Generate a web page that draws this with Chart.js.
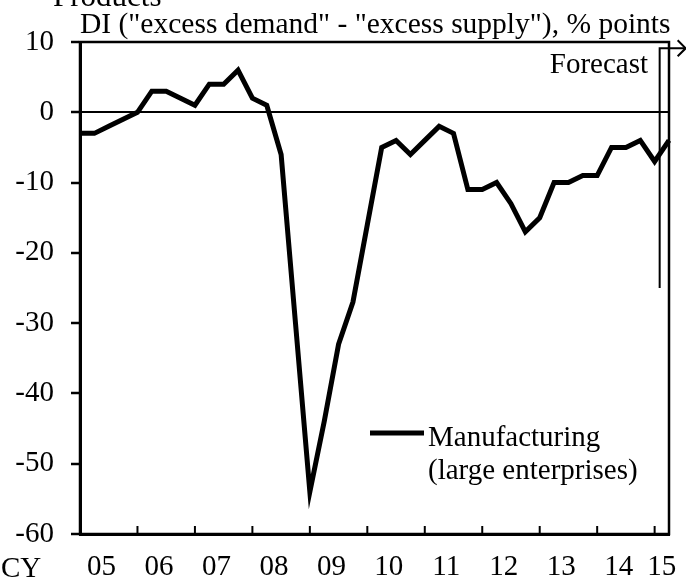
<!DOCTYPE html>
<html>
<head>
<meta charset="utf-8">
<script src="https://cdn.jsdelivr.net/npm/chart.js@4/dist/chart.umd.min.js"></script>
<style>
  html, body { margin: 0; padding: 0; background: #fff; }
  #wrap { width: 686px; height: 585px; }
</style>
</head>
<body>
<div id="wrap"><canvas id="chart" width="686" height="585"></canvas></div>
<script>
// quarters, CY2005 Q1 .. CY2015 Q2 (last one = forecast)
const quarters = [
  "05Q1","05Q2","05Q3","05Q4","06Q1","06Q2","06Q3","06Q4",
  "07Q1","07Q2","07Q3","07Q4","08Q1","08Q2","08Q3","08Q4",
  "09Q1","09Q2","09Q3","09Q4","10Q1","10Q2","10Q3","10Q4",
  "11Q1","11Q2","11Q3","11Q4","12Q1","12Q2","12Q3","12Q4",
  "13Q1","13Q2","13Q3","13Q4","14Q1","14Q2","14Q3","14Q4",
  "15Q1","15Q2"
];

// DI, % points
const diValues = [
  -3, -3, -2, -1, 0, 3, 3, 2,
  1, 4, 4, 6, 2, 1, -6, -30,
  -54, -44, -33, -27, -16, -5, -4, -6,
  -4, -2, -3, -11, -11, -10, -13, -17,
  -15, -10, -10, -9, -9, -5, -5, -4,
  -7, -4
];

const yearLabels = ["05","06","07","08","09","10","11","12","13","14","15"];
const yTicks = [10, 0, -10, -20, -30, -40, -50, -60];

const FONT = '"Liberation Serif", "Times New Roman", serif';

// label positions (middle of each year), year boundaries for tick marks
const labelPos = yearLabels.map((y, k) => k < 10 ? k * 4 + 1.5 : 40.5);
const boundaryPos = [4, 8, 12, 16, 20, 24, 28, 32, 36, 40];

const extras = {
  id: 'extras',
  afterDraw(chart) {
    const c = chart.ctx;
    const a = chart.chartArea;
    const xs = chart.scales.x, ys = chart.scales.y;
    c.save();
    c.strokeStyle = '#000';
    c.fillStyle = '#000';

    // frame
    c.lineWidth = 2.5;
    c.strokeRect(a.left, a.top, a.right - a.left, a.bottom - a.top);

    // inward tick marks at year boundaries
    c.lineWidth = 2;
    boundaryPos.forEach(v => {
      const x = xs.getPixelForValue(v);
      c.beginPath();
      c.moveTo(x, a.bottom);
      c.lineTo(x, a.bottom - 8);
      c.stroke();
    });

    // forecast marker
    const fx = xs.getPixelForValue(40.35);
    const fy1 = ys.getPixelForValue(9.1);
    const fy2 = ys.getPixelForValue(-25);
    c.lineWidth = 2;
    c.beginPath();
    c.moveTo(fx, fy2);
    c.lineTo(fx, fy1);
    c.lineTo(fx + 25, fy1);
    c.stroke();
    c.beginPath();
    c.moveTo(fx + 18, fy1 - 8);
    c.lineTo(fx + 26, fy1);
    c.lineTo(fx + 18, fy1 + 8);
    c.stroke();

    c.font = '29px ' + FONT;
    c.textAlign = 'right';
    c.textBaseline = 'alphabetic';
    c.fillText('Forecast', 648, 73);

    // legend
    c.lineWidth = 5;
    c.beginPath();
    c.moveTo(370, 433);
    c.lineTo(424, 433);
    c.stroke();
    c.textAlign = 'left';
    c.fillText('Manufacturing', 428, 446);
    c.fillText('(large enterprises)', 428, 479);

    // texts above and below
    c.font = '29.5px ' + FONT;
    c.fillText('DI ("excess demand" - "excess supply"), % points', 80, 33);
    c.font = '31px ' + FONT;
    c.fillText('Products', 53, 6);
    c.font = '29px ' + FONT;
    c.fillText('CY', 1, 577);
    c.restore();
  }
};

new Chart(document.getElementById('chart'), {
  type: 'line',
  data: {
    datasets: [{
      label: 'Manufacturing (large enterprises)',
      data: diValues.map((v, i) => ({ x: i, y: v })),
      borderColor: '#000',
      borderWidth: 5,
      pointRadius: 0,
      tension: 0,
      clip: false
    }]
  },
  options: {
    responsive: false,
    animation: false,
    devicePixelRatio: 1,
    layout: { padding: { top: 42, right: 17, left: 0, bottom: 0 } },
    plugins: { legend: { display: false }, tooltip: { enabled: false } },
    scales: {
      x: {
        type: 'linear',
        min: 0,
        max: quarters.length - 1,
        afterBuildTicks: s => { s.ticks = labelPos.map(v => ({ value: v })); },
        afterFit: s => { s.height = 51; s.paddingLeft = 0; s.paddingRight = 0; },
        ticks: {
          autoSkip: false,
          maxRotation: 0,
          color: '#000',
          font: { family: FONT, size: 29 },
          padding: 16,
          callback: (v, i) => yearLabels[i]
        },
        grid: { drawOnChartArea: false, drawTicks: false },
        border: { color: '#000', width: 3 }
      },
      y: {
        min: -60,
        max: 10,
        afterBuildTicks: s => { s.ticks = yTicks.map(v => ({ value: v })); },
        afterFit: s => { s.width = 80; s.paddingTop = 0; s.paddingBottom = 0; },
        ticks: {
          color: '#000',
          font: { family: FONT, size: 29 },
          padding: 17
        },
        grid: {
          color: ctx => ctx.tick && ctx.tick.value === 0 ? '#000' : 'rgba(0,0,0,0)',
          lineWidth: 2,
          tickLength: 9,
          tickColor: '#000',
          tickWidth: 2.5
        },
        border: { color: '#000', width: 3 }
      }
    }
  },
  plugins: [extras]
});
</script>
</body>
</html>
